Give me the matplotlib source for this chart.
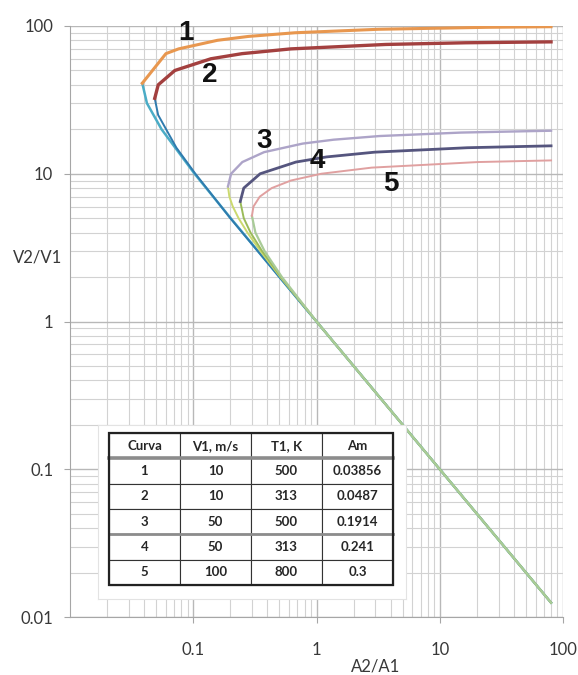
import matplotlib.pyplot as plt
from matplotlib.ticker import LogLocator, NullFormatter
from matplotlib.patches import Rectangle

plt.rcParams['font.family'] = ['Lato', 'DejaVu Sans']

# upper (after the nose) and lower branches of each curve
c1_up_x = [0.0386, 0.060, 0.076, 0.157, 0.28, 0.669, 3.16, 24.4, 80]
c1_up_y = [41, 65, 70, 80, 85, 90, 95, 98, 98.9]
c2_up_x = [0.0487, 0.052, 0.0709, 0.139, 0.249, 0.62, 3.64, 16.2, 80]
c2_up_y = [32.4, 40, 50, 60, 65, 70, 75, 77, 78.1]
c3_up_x = [0.1913, 0.2028, 0.2502, 0.3755, 0.773, 1.375, 3.25, 14.9, 67.4, 80]
c3_up_y = [8.2, 10, 12, 14, 16, 17, 18, 19, 19.5, 19.55]
c4_up_x = [0.2407, 0.257, 0.349, 0.681, 1.207, 2.97, 16.7, 80]
c4_up_y = [6.49, 8, 10, 12, 13, 14, 15, 15.45]
c5_up_x = [0.2992, 0.3079, 0.3466, 0.4333, 0.6206, 1.092, 2.80, 20.4, 80]
c5_up_y = [5.19, 6, 7, 8, 9, 10, 11, 12, 12.31]

c1_lo_x = [0.0386, 0.0421, 0.0553, 0.1025, 0.2012, 0.5005, 1, 10, 80]
c1_lo_y = [41, 30, 20, 10, 5, 2, 1, 0.1, 0.0125]
c2_lo_x = [0.0487, 0.0519, 0.073, 0.104, 0.2, 0.5, 1, 10, 80]
c2_lo_y = [32.4, 25, 15, 10, 5, 2, 1, 0.1, 0.0125]
c3_lo_x = [0.1913, 0.1963, 0.2093, 0.2333, 0.275, 0.3505, 0.509, 1, 10, 80]
c3_lo_y = [8.2, 7, 6, 5, 4, 3, 2, 1, 0.1, 0.0125]
c4_lo_x = [0.2407, 0.257, 0.2915, 0.3614, 0.515, 1, 10, 80]
c4_lo_y = [6.49, 5, 4, 3, 2, 1, 0.1, 0.0125]
c5_lo_x = [0.2992, 0.3193, 0.3787, 0.524, 1, 10, 80]
c5_lo_y = [5.19, 4, 3, 2, 1, 0.1, 0.0125]

curve_names = ['1', '2', '3', '4', '5']
label_x = [0.087, 0.135, 0.378, 1.02, 4.03]
label_y = [89.7, 46.6, 16.7, 12.2, 8.5]

table_cols = ['Curva', 'V1, m/s', 'T1, K', 'Am']
table_v1 = ['10', '10', '50', '50', '100']
table_t1 = ['500', '313', '500', '313', '800']
table_am = ['0.03856', '0.0487', '0.1914', '0.241', '0.3']

x_ticks = [0.1, 1, 10, 100]
x_labels = ['0.1', '1', '10', '100']
y_ticks = [0.01, 0.1, 1, 10, 100]
y_labels = ['0.01', '0.1', '1', '10', '100']

fig = plt.figure(figsize=(5.78, 6.75), dpi=100)
ax = fig.add_axes([70 / 578, 58 / 675, 493 / 578, 591 / 675])
ax.set_xscale('log')
ax.set_yscale('log')
ax.set_xlim(0.01, 100)
ax.set_ylim(0.01, 100)

# lower branches first, the light green one ends up on top of the tail
ax.plot(c1_lo_x, c1_lo_y, color='#4BACC6', lw=1.8)
ax.plot(c2_lo_x, c2_lo_y, color='#2F7BAE', lw=1.4)
ax.plot(c3_lo_x, c3_lo_y, color='#CBD96F', lw=1.4)
ax.plot(c4_lo_x, c4_lo_y, color='#9BBB59', lw=1.4)
ax.plot(c5_lo_x, c5_lo_y, color='#A9CB98', lw=1.6)

ax.plot(c1_up_x, c1_up_y, color='#E8974F', lw=2.2)
ax.plot(c2_up_x, c2_up_y, color='#A3403F', lw=2.4)
ax.plot(c3_up_x, c3_up_y, color='#ADA4C8', lw=1.7)
ax.plot(c4_up_x, c4_up_y, color='#55557E', lw=2.0)
ax.plot(c5_up_x, c5_up_y, color='#E0A0A0', lw=1.4)

for name, lx, ly in zip(curve_names, label_x, label_y):
    ax.text(lx, ly, name, ha='center', va='center', fontsize=20, fontweight='bold',
            family=['Liberation Sans Narrow', 'Liberation Sans', 'DejaVu Sans'], color='#111111')

ax.xaxis.set_minor_locator(LogLocator(base=10, subs=range(2, 10), numticks=20))
ax.yaxis.set_minor_locator(LogLocator(base=10, subs=range(2, 10), numticks=20))
ax.xaxis.set_minor_formatter(NullFormatter())
ax.yaxis.set_minor_formatter(NullFormatter())
ax.set_xticks(x_ticks)
ax.set_xticklabels(x_labels)
ax.set_yticks(y_ticks)
ax.set_yticklabels(y_labels)
ax.grid(which='major', color='#B8B8B8', lw=1.0)
ax.grid(which='minor', color='#D2D2D2', lw=0.8)
ax.set_axisbelow(True)
ax.tick_params(which='minor', length=0)
ax.tick_params(axis='x', which='major', length=4, color='#A6A6A6', pad=14, labelsize=12, labelcolor='#383838')
ax.tick_params(axis='y', which='major', length=4, color='#A6A6A6', pad=8, labelsize=12, labelcolor='#383838')
for s in ['top', 'right']:
    ax.spines[s].set_visible(False)
for s in ['left', 'bottom']:
    ax.spines[s].set_color('#A6A6A6')

ax.text(-0.015, 0.609, 'V2/V1', transform=ax.transAxes, ha='right', va='center', fontsize=12, color='#383838')
ax.text(0.62, -0.083, 'A2/A1', transform=ax.transAxes, ha='center', va='center', fontsize=12, color='#383838')

# white box holding the table
tab_ax = fig.add_axes([98 / 578, 76 / 675, 308 / 578, 174 / 675], zorder=5)
tab_ax.set_xlim(0, 1)
tab_ax.set_ylim(0, 1)
tab_ax.set_xticks([])
tab_ax.set_yticks([])
for s in tab_ax.spines.values():
    s.set_color('#E3E3E3')

rows = [[n, a, b, c] for n, a, b, c in zip(curve_names, table_v1, table_t1, table_am)]
tx0, tw, ty0, th = 0.0357, 0.922, 0.0805, 0.874
tbl = tab_ax.table(cellText=rows, colLabels=table_cols, cellLoc='center', bbox=[tx0, ty0, tw, th])
tbl.auto_set_font_size(False)
tbl.set_fontsize(9.5)
for cell in tbl.get_celld().values():
    cell.set_edgecolor('#333333')
    cell.set_linewidth(0.8)
    cell.set_text_props(weight='bold', color='#262626')

rh = th / 6
tab_ax.plot([tx0, tx0 + tw], [ty0 + 5 * rh, ty0 + 5 * rh], color='#8C8C8C', lw=2.6, zorder=10)
tab_ax.plot([tx0, tx0 + tw], [ty0 + 2 * rh, ty0 + 2 * rh], color='#8C8C8C', lw=2.0, zorder=10)
tab_ax.add_patch(Rectangle((tx0, ty0), tw, th, fill=False, edgecolor='#222222', lw=1.6, zorder=11))

fig.savefig('out.png', dpi=100)
